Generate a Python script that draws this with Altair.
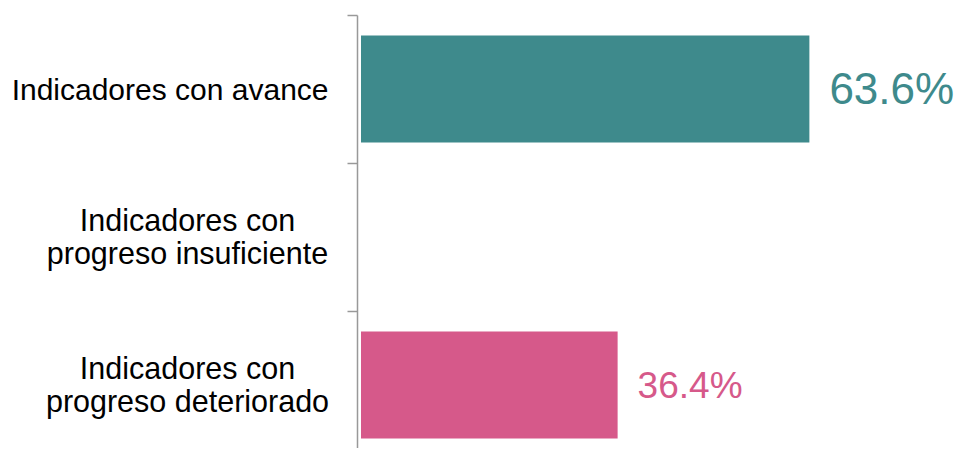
import altair as alt
import pandas as pd

categories = [
    "Indicadores con avance",
    "Indicadores con progreso insuficiente",
    "Indicadores con progreso deteriorado",
]
values = [63.6, 0.0, 36.4]
labels = ["63.6%", "", "36.4%"]
colors = ["#3E8A8C", "#9E9E9E", "#D6598A"]

df = pd.DataFrame({"cat": categories, "pct": values, "label": labels})

first = categories[0]
cond = f"datum.value == '{first}'"

axis_gray = "#999999"

y = alt.Y(
    "cat:N",
    sort=categories,
    scale=alt.Scale(domain=categories, paddingInner=0, paddingOuter=0),
    axis=alt.Axis(
        title=None,
        offset=4,
        tickBand="extent",
        tickSize=10,
        tickColor=axis_gray,
        tickWidth=1.5,
        domainColor=axis_gray,
        domainWidth=1.5,
        labelFont="Liberation Sans",
        labelFontSize={"condition": {"test": cond, "value": 30}, "value": 30.5},
        labelColor="#000000",
        labelLineHeight=33,
        labelLimit=0,
        labelBaseline="middle",
        labelAlign={"condition": {"test": cond, "value": "right"}, "value": "center"},
        labelPadding={"condition": {"test": cond, "value": 19}, "value": 160},
        labelOffset={"condition": {"test": cond, "value": 1}, "value": -16},
        labelExpr=(
            f"!isString(datum.value) ? '' : (datum.value == '{first}' ? datum.label : "
            "['Indicadores con', replace(datum.label, 'Indicadores con ', '')])"
        ),
    ),
)
x = alt.X("pct:Q", scale=alt.Scale(domain=[0, 80], nice=False), axis=None)
color = alt.Color("cat:N", scale=alt.Scale(domain=categories, range=colors), legend=None)

base = alt.Chart(df).transform_filter("datum.pct > 0")

bars = base.mark_bar(height={"band": 0.723}).encode(y=y, x=x, color=color)

text = base.mark_text(
    align="left", baseline="middle", dx=20, dy=2, font="Liberation Sans"
).encode(
    y=y,
    x=x,
    text="label:N",
    color=color,
    size=alt.condition("datum.pct > 50", alt.value(44), alt.value(37)),
)

chart = (
    alt.layer(bars, text)
    .properties(
        width=564,
        height=444,
        autosize=alt.AutoSizeParams(type="none"),
        padding={"left": 353, "top": 7, "right": 30, "bottom": -11},
    )
    .configure_view(stroke=None)
)

chart.save("out.html", embed_options={"renderer": "svg", "actions": False})
